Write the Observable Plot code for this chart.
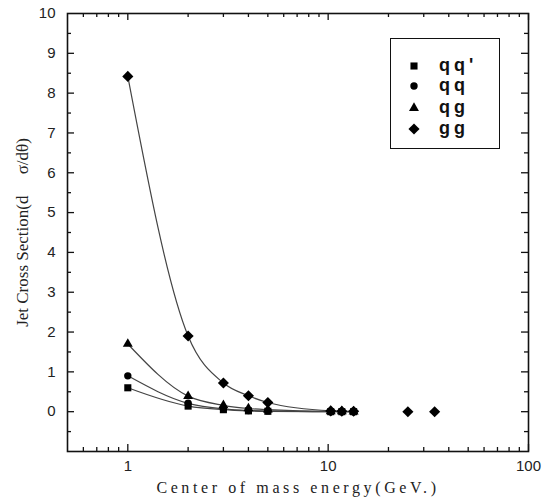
<!DOCTYPE html>
<html><head><meta charset="utf-8">
<script src="https://cdn.jsdelivr.net/npm/d3@7"></script>
<script src="https://cdn.jsdelivr.net/npm/@observablehq/plot@0.6"></script>
<style>
body{margin:0;background:#fff;}
#wrap{position:relative;width:542px;height:504px;}
#legend{position:absolute;left:390px;top:38px;width:110px;height:111px;border:1.5px solid #111;box-sizing:border-box;font-family:"Liberation Sans",Arial,sans-serif;font-weight:bold;font-size:18px;letter-spacing:4px;color:#111;}
.row{position:absolute;left:0;height:20px;line-height:20px;}
.row svg{position:absolute;left:14px;top:2px;}
.row span{position:absolute;left:48px;top:0;white-space:nowrap;}
</style>
</head><body>
<div id="wrap"><div id="chart"></div><div id="legend"></div></div>
<script>
// ---- data ----
const seriesNames = ["qq'", "qq", "qg", "gg"];
const seriesSymbols = ["square", "circle", "triangle", "diamond2"];
const energy = [1, 2, 3, 4, 5, 10.3, 11.7, 13.4];
const qqPrime = [0.6, 0.14, 0.05, 0.02, 0.01, 0, 0, 0];
const qq = [0.9, 0.21, 0.07, 0.03, 0.02, 0, 0, 0];
const qg = [1.7, 0.39, 0.16, 0.08, 0.05, 0.01, 0.01, 0];
const gg = [8.42, 1.9, 0.72, 0.4, 0.23, 0.02, 0.01, 0.01];
const ggExtraEnergy = [25, 34];
const ggExtra = [0, 0];
const xMajorTicks = [1, 10, 100];
const xMinorTicks = [0.6, 0.7, 0.8, 0.9, 2, 3, 4, 5, 6, 7, 8, 9, 20, 30, 40, 50, 60, 70, 80, 90];
const yMajorTicks = [0, 1, 2, 3, 4, 5, 6, 7, 8, 9];
const yMinorTicks = [-0.5, 0.5, 1.5, 2.5, 3.5, 4.5, 5.5, 6.5, 7.5, 8.5, 9.5];
const yLabelTicks = [0, 1, 2, 3, 4, 5, 6, 7, 8, 9, 10];
const xTitle = "Center of mass energy(GeV.)";
const yTitle = "Jet Cross Section(d     σ/dθ)";

const seriesValues = [qqPrime, qq, qg, gg];
const lineRows = [];
seriesNames.forEach((s, i) => energy.forEach((e, j) => lineRows.push({series: s, x: e, y: seriesValues[i][j]})));
const dotRows = lineRows.concat(ggExtraEnergy.map((e, j) => ({series: "gg", x: e, y: ggExtra[j]})));

const W = 542, H = 504, ML = 67, MR = 14, MT = 13, MB = 53;
const FW = W - ML - MR, FH = H - MT - MB;
const dotR = {"qq'": 4.0, "qq": 3.7, "qg": 3.7, "gg": 5.0};

const marks = [
  Plot.line(lineRows, {x: "x", y: "y", z: "series", curve: "monotone-x", stroke: "#444", strokeWidth: 1.2}),
  ...seriesNames.map((s, i) => Plot.dot(dotRows.filter(d => d.series === s), {x: "x", y: "y", symbol: () => seriesSymbols[i], fill: "#000", stroke: "none", r: dotR[s]})),
  // inward ticks
  Plot.tickX(xMajorTicks, {x: d => d, insetTop: FH - 7, stroke: "#111", strokeWidth: 1.3}),
  Plot.tickX(xMajorTicks, {x: d => d, insetBottom: FH - 7, stroke: "#111", strokeWidth: 1.3}),
  Plot.tickX(xMinorTicks, {x: d => d, insetTop: FH - 4, stroke: "#111", strokeWidth: 1.3}),
  Plot.tickX(xMinorTicks, {x: d => d, insetBottom: FH - 4, stroke: "#111", strokeWidth: 1.3}),
  Plot.tickY(yMajorTicks, {y: d => d, insetRight: FW - 7, stroke: "#111", strokeWidth: 1.3}),
  Plot.tickY(yMajorTicks, {y: d => d, insetLeft: FW - 7, stroke: "#111", strokeWidth: 1.3}),
  Plot.tickY(yMinorTicks, {y: d => d, insetRight: FW - 4, stroke: "#111", strokeWidth: 1.3}),
  Plot.tickY(yMinorTicks, {y: d => d, insetLeft: FW - 4, stroke: "#111", strokeWidth: 1.3}),
  Plot.frame({stroke: "#111", strokeWidth: 1.6}),
  Plot.axisX({ticks: xMajorTicks, tickSize: 0, tickPadding: 9, tickFormat: d => String(d), fontSize: 15, label: null, fill: "#222"}),
  Plot.axisY({ticks: yLabelTicks, tickSize: 0, tickPadding: 12, tickFormat: d => String(d), fontSize: 15, label: null, fill: "#222"}),
  Plot.text([xTitle], {text: d => d, frameAnchor: "bottom", dy: 41, fontSize: 16, fontFamily: "Liberation Serif, Times New Roman, serif", fill: "#222"}),
  Plot.text([yTitle], {text: d => d, frameAnchor: "left", textAnchor: "middle", rotate: -90, dx: -45, fontSize: 17, fontFamily: "Liberation Serif, Times New Roman, serif", fill: "#222"})
];

const chart = Plot.plot({
  width: W, height: H,
  marginLeft: ML, marginRight: MR, marginTop: MT, marginBottom: MB,
  x: {type: "log", domain: [0.5, 100]},
  y: {domain: [-1, 10]},
  style: {fontFamily: "Liberation Sans, Arial, sans-serif", fontSize: "15px", background: "#fff", color: "#222"},
  marks
});
document.getElementById("chart").appendChild(chart);
d3.select(chart).selectAll("text").filter(function() { return this.textContent === xTitle; })
  .attr("letter-spacing", "3.6px").style("letter-spacing", "3.6px");

// legend
const legend = document.getElementById("legend");
const rowTops = [16, 36, 58, 79];
const symMap = {square: d3.symbolSquare, circle: d3.symbolCircle, triangle: d3.symbolTriangle, diamond2: d3.symbolDiamond2};
seriesNames.forEach((s, i) => {
  const row = document.createElement("div");
  row.className = "row";
  row.style.top = rowTops[i] + "px";
  const r = dotR[s];
  const path = d3.symbol(symMap[seriesSymbols[i]], Math.PI * r * r)();
  row.innerHTML = `<svg width="18" height="18" viewBox="-9 -9 18 18"><path d="${path}" fill="#000"/></svg><span>${s}</span>`;
  legend.appendChild(row);
});
</script>
</body></html>
